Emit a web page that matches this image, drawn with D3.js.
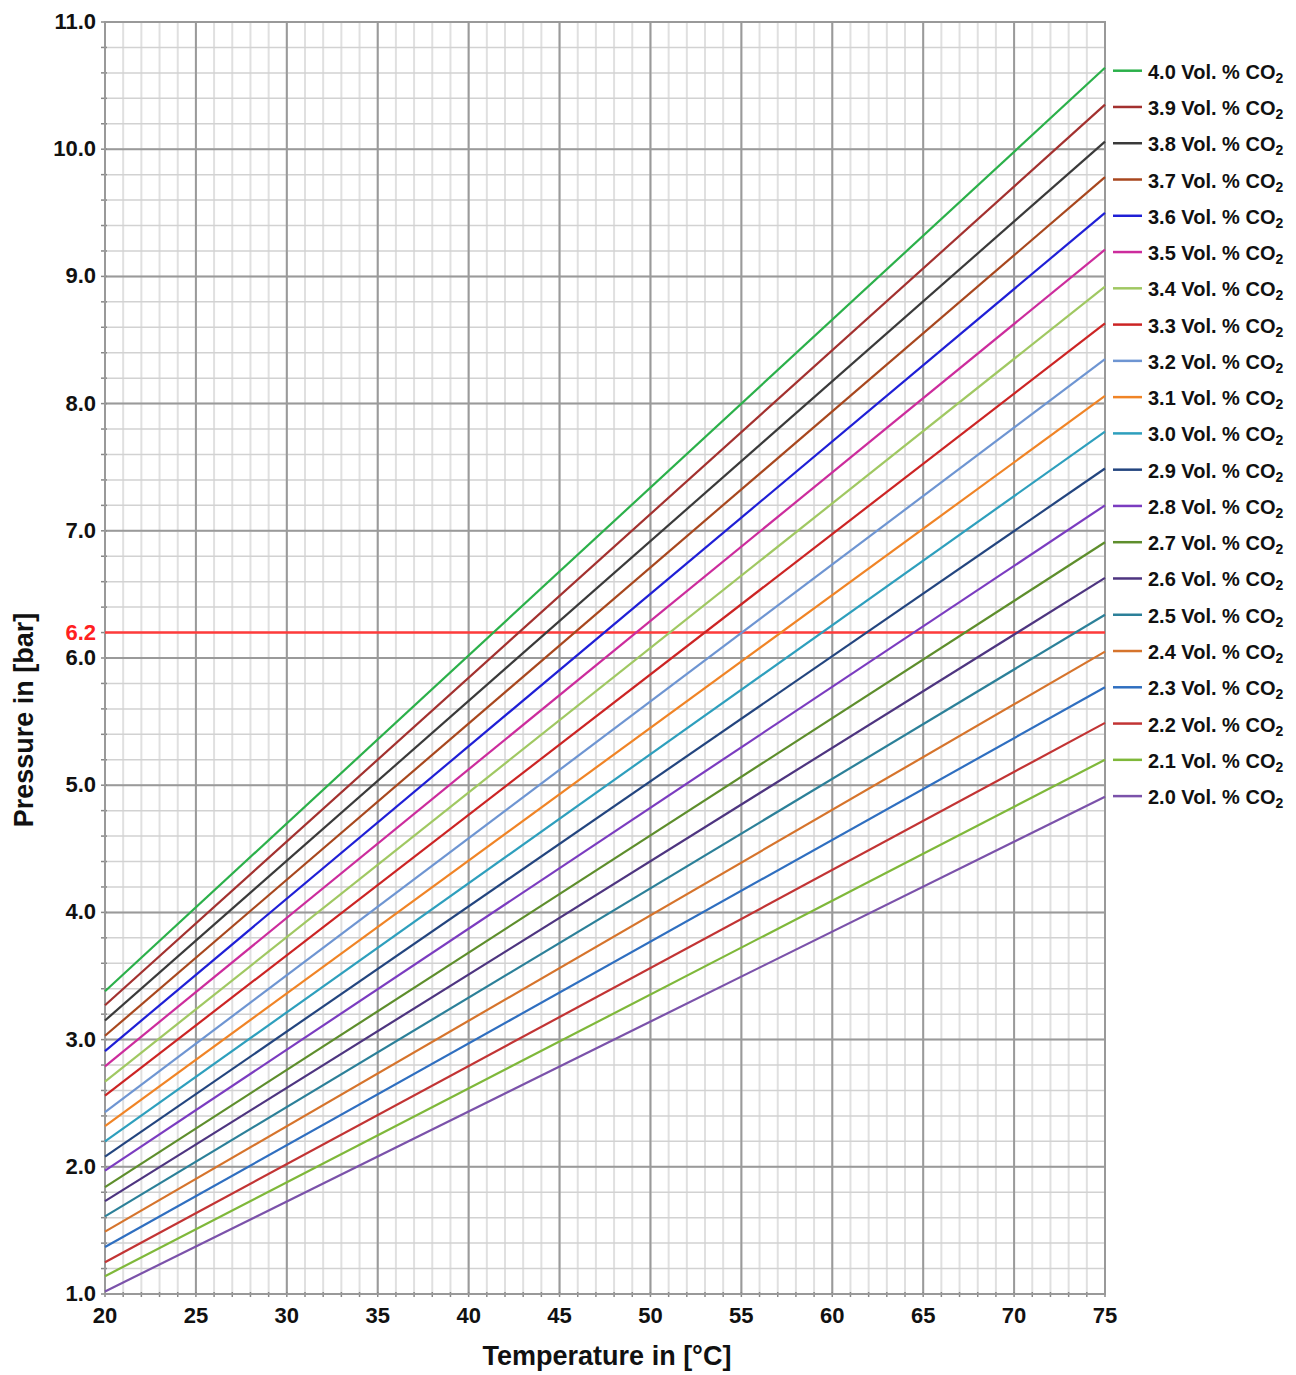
<!DOCTYPE html>
<html>
<head>
<meta charset="utf-8">
<script src="https://cdn.jsdelivr.net/npm/d3@7"></script>
<style>
  body { margin: 0; background: #fff; }
  text { font-family: "Liberation Sans", Arial, sans-serif; font-weight: bold; }
</style>
</head>
<body>
<svg id="chart" width="1296" height="1375"></svg>
<script>
// CO2 volumes (legend order, top to bottom)
const volumes = ["4.0", "3.9", "3.8", "3.7", "3.6", "3.5", "3.4", "3.3", "3.2", "3.1", "3.0",
                 "2.9", "2.8", "2.7", "2.6", "2.5", "2.4", "2.3", "2.2", "2.1", "2.0"];
// pressure at 20 °C and at 75 °C
const p20 = [3.38, 3.27, 3.15, 3.03, 2.91, 2.79, 2.67, 2.56, 2.43, 2.32, 2.20,
             2.08, 1.97, 1.84, 1.73, 1.61, 1.49, 1.37, 1.25, 1.14, 1.02];
const p75 = [10.64, 10.35, 10.06, 9.78, 9.50, 9.21, 8.92, 8.63, 8.35, 8.06, 7.78,
             7.49, 7.20, 6.91, 6.63, 6.34, 6.05, 5.77, 5.49, 5.20, 4.91];
const colors = ["#2bb04a", "#a3312f", "#3a3a3a", "#a8471e", "#1f1fd6", "#cc2c9c", "#a0c862",
                "#cc2424", "#6e95d2", "#f08426", "#2e9fbd", "#23457f", "#7b3cc0", "#5e8e2c",
                "#4e3580", "#2c8099", "#d6742c", "#2f6fc0", "#c23434", "#7fb83a", "#7b52aa"];
const temps = [20, 75];
const xTicks = [20, 25, 30, 35, 40, 45, 50, 55, 60, 65, 70, 75];
const yTicks = [1, 2, 3, 4, 5, 6, 7, 8, 9, 10, 11];
const limit = 6.2;

// plot area
const plotL = 105, plotR = 1105, plotT = 22, plotB = 1294;

const svg = d3.select("#chart");
const x = d3.scaleLinear().domain([20, 75]).range([plotL, plotR]);
const y = d3.scaleLinear().domain([1, 11]).range([plotB, plotT]);

const grid = svg.append("g");

// minor grid: every 1 °C, every 0.2 bar
grid.selectAll(".vminor").data(d3.range(21, 75)).enter().append("line")
    .attr("x1", d => x(d)).attr("x2", d => x(d))
    .attr("y1", plotT).attr("y2", plotB)
    .style("stroke", "#e0e0e0").style("stroke-width", 2);

grid.selectAll(".hminor").data(d3.range(1, 50).map(i => 1 + i * 0.2)).enter().append("line")
    .attr("x1", plotL).attr("x2", plotR)
    .attr("y1", d => y(d)).attr("y2", d => y(d))
    .style("stroke", "#d2d2d2").style("stroke-width", 1.5);

// major grid
grid.selectAll(".vmajor").data(xTicks).enter().append("line")
    .attr("x1", d => x(d)).attr("x2", d => x(d))
    .attr("y1", plotT).attr("y2", plotB)
    .style("stroke", "#9a9a9a").style("stroke-width", 2);

grid.selectAll(".hmajor").data(yTicks).enter().append("line")
    .attr("x1", plotL).attr("x2", plotR)
    .attr("y1", d => y(d)).attr("y2", d => y(d))
    .style("stroke", "#9a9a9a").style("stroke-width", 2);

// small tick marks on the axes
grid.selectAll(".xt").data(d3.range(20, 76)).enter().append("line")
    .attr("x1", d => x(d)).attr("x2", d => x(d))
    .attr("y1", plotB - 2).attr("y2", plotB + 3)
    .style("stroke", "#888").style("stroke-width", 1.5);
grid.selectAll(".yt").data(d3.range(0, 51).map(i => 1 + i * 0.2)).enter().append("line")
    .attr("x1", plotL - 4).attr("x2", plotL + 2)
    .attr("y1", d => y(d)).attr("y2", d => y(d))
    .style("stroke", "#888").style("stroke-width", 1.5);

// frame
svg.append("rect")
    .attr("x", plotL).attr("y", plotT)
    .attr("width", plotR - plotL).attr("height", plotB - plotT)
    .style("fill", "none").style("stroke", "#999").style("stroke-width", 2);

// pressure limit line
svg.append("line")
    .attr("x1", plotL).attr("x2", plotR)
    .attr("y1", y(limit)).attr("y2", y(limit))
    .style("stroke", "#ff3b3b").style("stroke-width", 2.5);

// CO2 curves
const line = d3.line().x(d => x(d[0])).y(d => y(d[1]));
svg.selectAll(".curve").data(volumes).enter().append("path")
    .attr("d", (d, i) => line([[temps[0], p20[i]], [temps[1], p75[i]]]))
    .style("fill", "none")
    .style("stroke", (d, i) => colors[i])
    .style("stroke-width", 2.2);

// tick labels
svg.selectAll(".ylab").data(yTicks).enter().append("text")
    .attr("x", plotL - 9).attr("y", d => y(d) + 7)
    .attr("text-anchor", "end")
    .style("font-size", "22px").style("fill", "#111")
    .text(d => d.toFixed(1));

svg.append("text")
    .attr("x", plotL - 9).attr("y", y(limit) + 7)
    .attr("text-anchor", "end")
    .style("font-size", "22px").style("fill", "#ff2020")
    .text(limit.toFixed(1));

svg.selectAll(".xlab").data(xTicks).enter().append("text")
    .attr("x", d => x(d)).attr("y", plotB + 29)
    .attr("text-anchor", "middle")
    .style("font-size", "22px").style("fill", "#111")
    .text(d => d);

// axis titles
svg.append("text")
    .attr("transform", "translate(33,720) rotate(-90)")
    .attr("text-anchor", "middle")
    .style("font-size", "27px").style("fill", "#111")
    .text("Pressure in [bar]");

svg.append("text")
    .attr("x", 607).attr("y", 1365)
    .attr("text-anchor", "middle")
    .style("font-size", "27px").style("fill", "#111")
    .text("Temperature in [°C]");

// legend
const legend = svg.selectAll(".leg").data(volumes).enter().append("g")
    .attr("transform", (d, i) => "translate(1113," + (70.7 + i * 36.27) + ")");
legend.append("line")
    .attr("x1", 0).attr("x2", 29)
    .style("stroke", (d, i) => colors[i]).style("stroke-width", 2.5);
const lt = legend.append("text")
    .attr("x", 35).attr("y", 8)
    .style("font-size", "20px").style("fill", "#111");
lt.append("tspan").text(d => d + " Vol. % CO");
lt.append("tspan").attr("dy", 4).style("font-size", "14px").text("2");
</script>
</body>
</html>
